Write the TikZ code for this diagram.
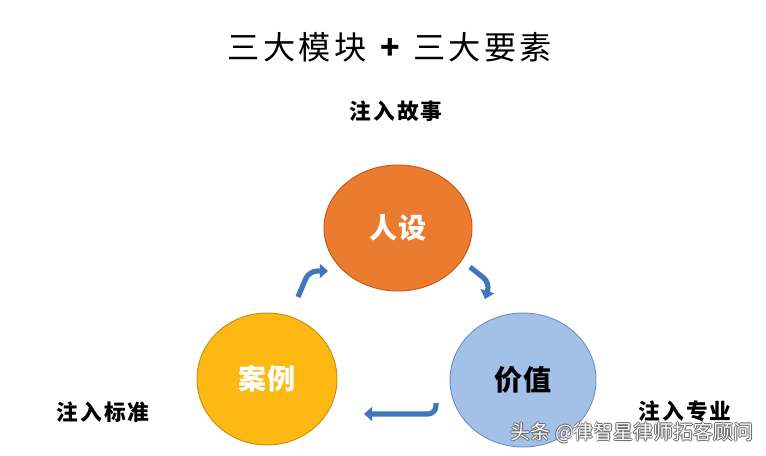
\documentclass[tikz,border=0pt]{standalone}
\usepackage{fontspec}
\usepackage{tikz}
\usetikzlibrary{arrows.meta,shapes.geometric}
\setmainfont{Noto Sans CJK SC}
\newfontfamily\spaced[LetterSpace=10]{Noto Sans CJK SC}
\newfontfamily\titlefont[LetterSpace=10]{Noto Sans CJK SC}
\definecolor{renshe}{HTML}{EB7B2F}
\definecolor{renshedark}{HTML}{C0581A}
\definecolor{anli}{HTML}{FDB813}
\definecolor{anlidark}{HTML}{C48F0C}
\definecolor{jiazhi}{HTML}{A3C1E8}
\definecolor{jiazhidark}{HTML}{6F90BF}
\definecolor{arrowblue}{HTML}{3F77BD}

\begin{document}
\begin{tikzpicture}[x=0.03cm,y=-0.03cm,>={Triangle[width=12pt,length=7pt]},
    circ/.style={ellipse,draw,line width=0.8pt,font=\fontsize{24}{24}\selectfont\bfseries},
    inject/.style={font=\spaced\fontsize{18.5}{19}\selectfont\bfseries},
    flow/.style={->,arrowblue,line width=4.4pt,rounded corners=7pt}]
    \fill[white] (0,0) rectangle (766,456);
    \node[font=\titlefont\fontsize{27.5}{28}\selectfont] (title) at (390,47) {三大模块 \textbf{+} 三大要素};
    \node[inject] (story) at (396,111) {注入故事};
    \node[inject] (standard) at (103,412) {注入标准};
    \node[inject] (pro) at (685,411) {注入专业};
    \node[circ,fill=renshe,draw=renshedark,text=white,minimum width=4.44cm,minimum height=3.78cm] (ren) at (398,228) {人设};
    \node[circ,fill=anli,draw=anlidark,text=white,minimum width=4.2cm,minimum height=3.96cm] (case) at (267,379) {案例};
    \node[circ,fill=jiazhi,draw=jiazhidark,text=black,minimum width=4.38cm,minimum height=4.02cm] (value) at (523,380) {价值};
    % arrows between the circles
    \coordinate (a1) at (298,297);
    \coordinate (a2) at (309,271);
    \coordinate (a3) at (328,271);
    \coordinate (b1) at (470,267);
    \coordinate (b2) at (490,283);
    \coordinate (b3) at (485,299);
    \coordinate (c1) at (436,403);
    \coordinate (c2) at (436,414);
    \coordinate (c3) at (364,414);
    \draw[flow] (a1)--(a2)--(a3);
    \draw[flow] (b1)--(b2)--(b3);
    \draw[flow] (c1)--(c2)--(c3);
    % watermark
    \foreach \dx/\dy in {-0.7/0,0.7/0,0/-0.7,0/0.7}
    {
        \node[text=black!60,font=\fontsize{17}{17}\selectfont] at ([shift={(\dx pt,\dy pt)}]632,433) {头条 @律智星律师拓客顾问};
    }
    \node[text=white,font=\fontsize{17}{17}\selectfont] (mark) at (632,433) {头条 @律智星律师拓客顾问};
\end{tikzpicture}
\end{document}
